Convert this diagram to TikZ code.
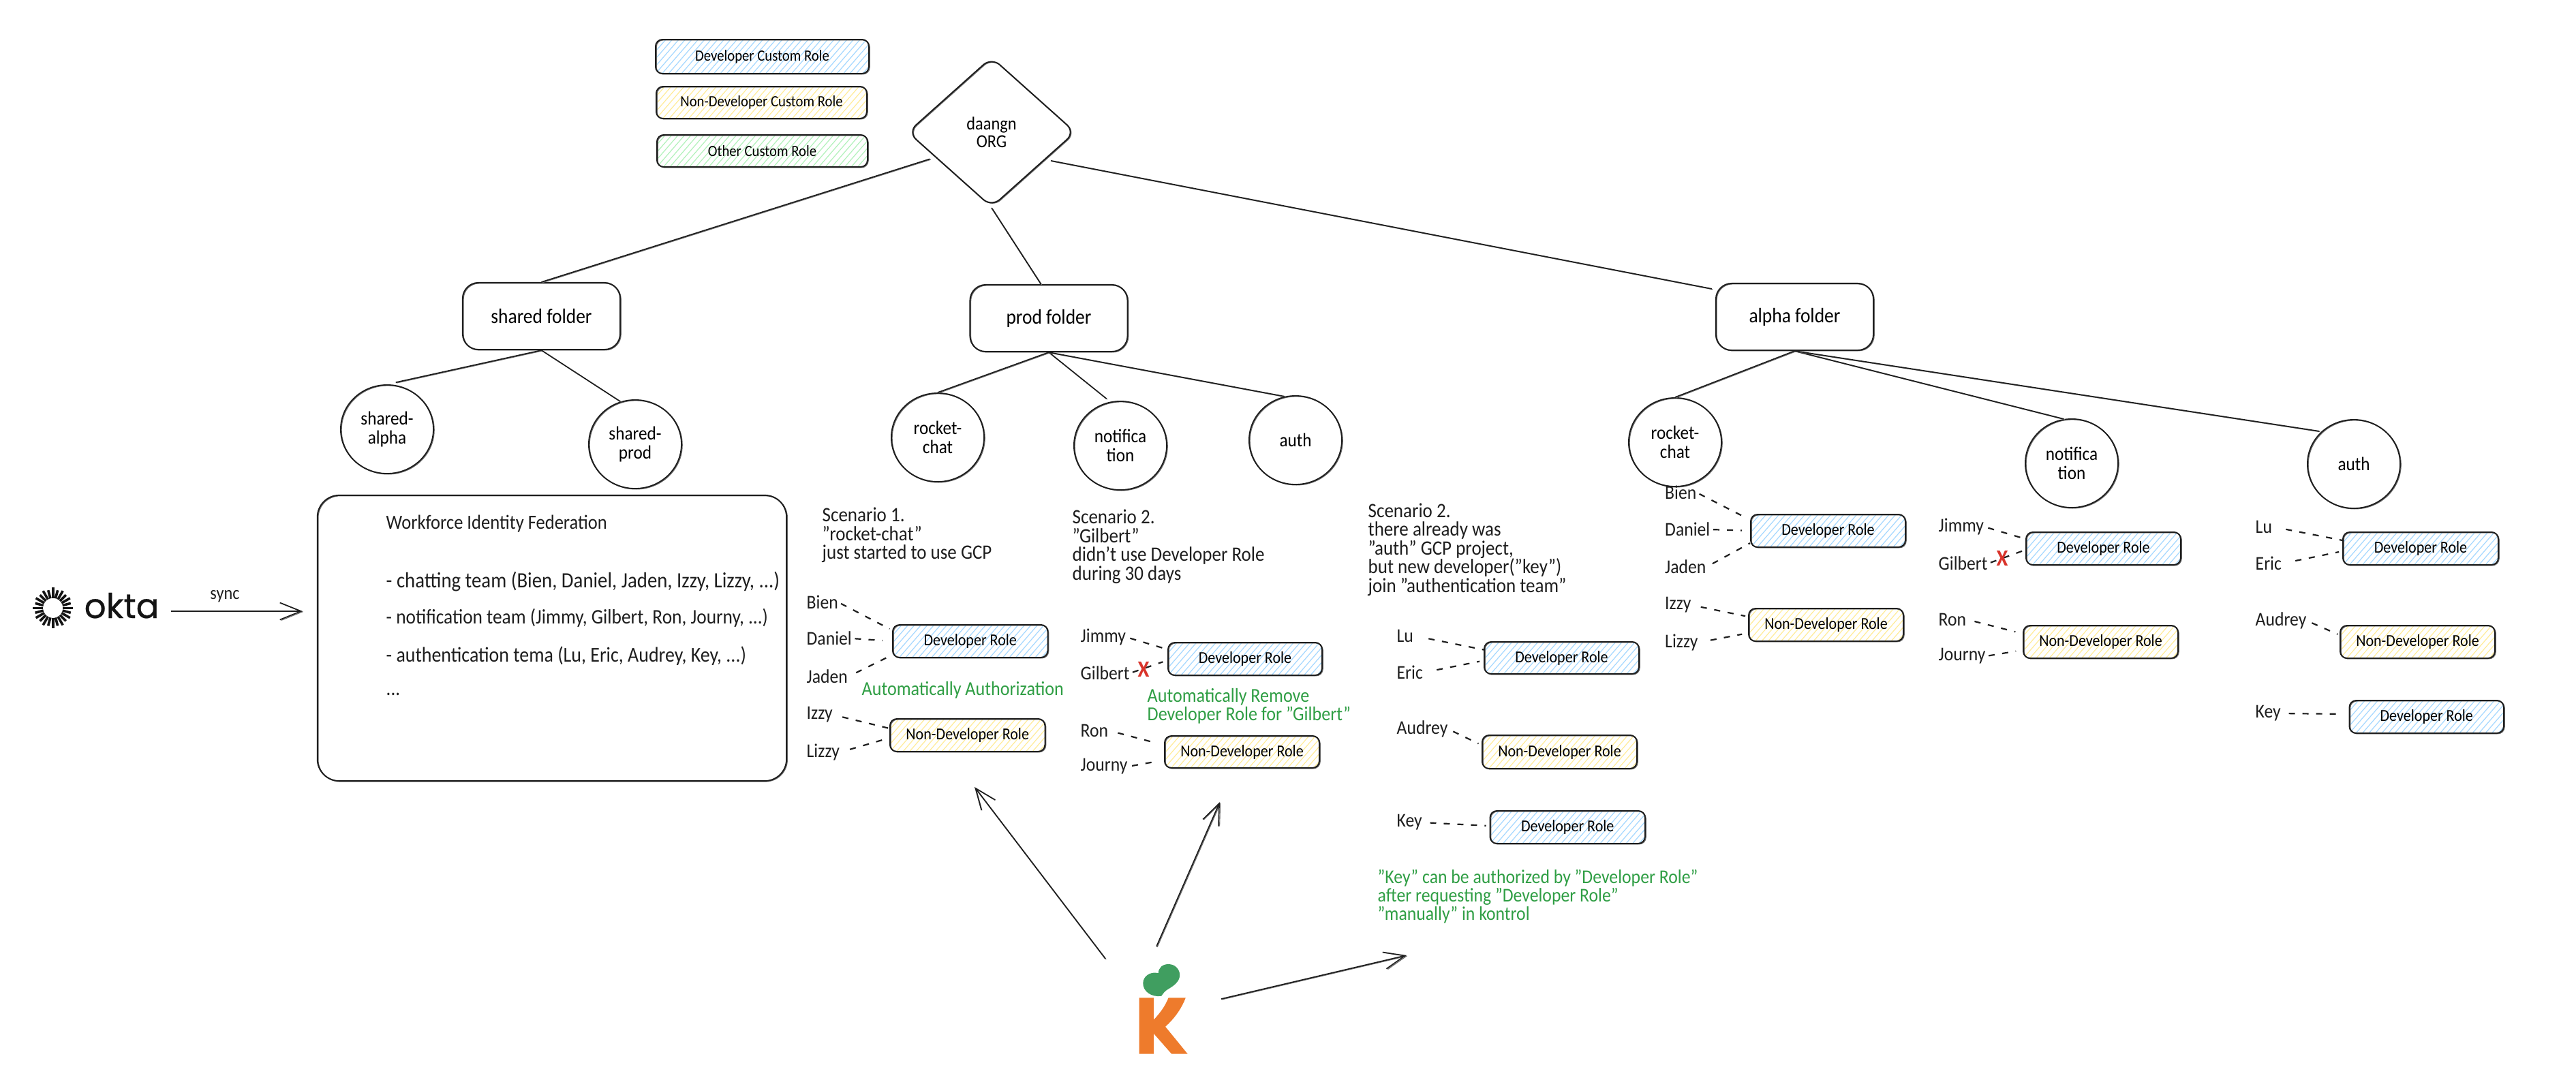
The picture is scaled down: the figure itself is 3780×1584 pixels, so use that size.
\documentclass[tikz,border=0pt]{standalone}
\usepackage{fontspec}
\setmainfont{Carlito}[FakeStretch=0.9]
\newfontfamily\oktafont{Poppins}[FakeBold=0.5]
\usetikzlibrary{shapes.geometric,arrows.meta,calc}
\definecolor{inkc}{HTML}{1E1E1E}
\definecolor{hblue}{HTML}{A5D8FF}
\definecolor{hyellow}{HTML}{FFEC99}
\definecolor{hgreen}{HTML}{B2F2BB}
\definecolor{gtext}{HTML}{2F9E44}
\definecolor{xred}{HTML}{D9342B}
\definecolor{korange}{HTML}{EE7B2C}
\definecolor{kgreen}{HTML}{409E60}
\newcommand\pxfont[2]{\fontsize{\dimexpr#1\dimexpr0.2845pt\relax\relax}{\dimexpr#2\dimexpr0.2845pt\relax\relax}\selectfont}
\tikzset{
  sk/.style={preaction={draw=inkc!65,line width=0.011cm,transform canvas={xshift=0.012cm,yshift=-0.009cm}}},
  conn/.style={draw=inkc,line width=0.017cm,sk},
  arrowconn/.style={conn,-{Straight Barb[length=0.31cm,width=0.25cm]}},
  dashconn/.style={draw=inkc,line width=0.022cm,dash pattern=on 0.09cm off 0.11cm},
  rolebox/.style={draw=inkc,line width=0.02cm,rounded corners=0.1cm,inner sep=0pt,sk,font=\pxfont{24.5}{26}},
  legendbox/.style={rolebox,font=\pxfont{23}{26}},
  folder/.style={draw=inkc,line width=0.02cm,rounded corners=0.23cm,sk,inner sep=0pt,minimum width=2.31cm,minimum height=0.98cm,font=\pxfont{30.5}{32}},
  bubble/.style={ellipse,draw=inkc,line width=0.019cm,sk,inner sep=0pt,minimum width=1.36cm,minimum height=1.3cm,align=center,font=\pxfont{28}{27.5}},
  orgshape/.style={diamond,draw=inkc,line width=0.02cm,sk,rounded corners=0.16cm,inner sep=0pt,minimum width=2.46cm,minimum height=2.2cm,align=center,font=\pxfont{27}{26}},
  wholabel/.style={anchor=west,inner sep=0pt,font=\pxfont{28.5}{28},text=inkc},
  para/.style={anchor=west,inner sep=0pt,align=left,text=inkc,font=\pxfont{30}{27.5}},
  greenpara/.style={anchor=west,inner sep=0pt,align=left,text=gtext,font=\pxfont{29}{27}},
  fedline/.style={anchor=west,inner sep=0pt,text=inkc},
  redx/.style={inner sep=0pt,text=xred,font=\bfseries\pxfont{34}{34}},
}
% name, x1, y1, x2, y2, hachure colour, style, text
\newcommand\hachured[8]{%
  \begin{scope}
    \clip[rounded corners=0.1cm] (#2,#3) rectangle (#4,#5);
    \foreach \k in {-8,...,36}
      \draw[#6,line width=0.012cm] ({#2+\k*9.5},{#5}) -- ({#2+\k*9.5+0.87*(#5-#3)},{#3});
  \end{scope}
  \node[#7,minimum width={(#4-#2)*0.01cm},minimum height={(#5-#3)*0.01cm}] (#1) at ({(#2+#4)/2},{(#3+#5)/2}) {#8};
}
\newcommand\dev[5]{\hachured{#1}{#2}{#3}{#4}{#5}{hblue}{rolebox}{Developer Role}}
\newcommand\nondev[5]{\hachured{#1}{#2}{#3}{#4}{#5}{hyellow}{rolebox}{Non-Developer Role}}
\newcommand\who[4]{\node[wholabel] (#1) at (#2,#3) {#4};}
% label, box anchor, gap at the label, gap at the box
\newcommand\dl[4]{\draw[dashconn,shorten <=#3*0.01cm,shorten >=#4*0.01cm] (#1.east) -- (#2);}
\begin{document}
\begin{tikzpicture}[x=0.01cm,y=-0.01cm]
\useasboundingbox (0,0) rectangle (3780,1584);
\fill[white] (0,0) rectangle (3780,1584);

% legend
\hachured{lega}{962}{58}{1275}{108}{hblue}{legendbox}{Developer Custom Role}
\hachured{legb}{963}{127}{1272}{174}{hyellow}{legendbox}{Non-Developer Custom Role}
\hachured{legc}{964}{198}{1273}{245}{hgreen}{legendbox}{Other Custom Role}

% hierarchy
\node[orgshape] (org) at (1455,194) {daangn\\ORG};
\node[folder] (shared) at (794.5,464) {shared folder};
\node[folder] (prod) at (1539,467) {prod folder};
\node[folder] (alpha) at (2633.5,465) {alpha folder};
\node[bubble] (salpha) at (568,630) {shared-\\alpha};
\node[bubble] (sprod) at (932,652) {shared-\\prod};
\node[bubble] (prc) at (1376,642) {rocket-\\chat};
\node[bubble] (pnot) at (1644,654) {notifica\\tion};
\node[bubble] (pauth) at (1901,646) {auth};
\node[bubble] (arc) at (2458,649) {rocket-\\chat};
\node[bubble] (anot) at (3040,680) {notifica\\tion};
\node[bubble] (aauth) at (3454,681) {auth};

\draw[conn,shorten <=0.08cm] (org.204) -- (shared.north);
\draw[conn] (org.south) -- (prod.103);
\draw[conn,shorten <=0.08cm,shorten >=0.05cm] (org.333) -- (alpha.161);
\draw[conn,shorten >=0.13cm] (shared.south) -- (salpha.north);
\draw[conn] (shared.south) -- (sprod.109);
\draw[conn] (prod.south) -- (prc.north);
\draw[conn,shorten >=0.07cm] (prod.south) -- (pnot.103);
\draw[conn] (prod.south) -- (pauth.104);
\draw[conn] (alpha.south) -- (arc.north);
\draw[conn] (alpha.south) -- (anot.100);
\draw[conn,shorten >=0.03cm] (alpha.south) -- (aauth.135);

% okta and federation
\foreach \a/\r in {0/29,15/27,30/29,45/27,60/29,75/27,90/30,105/27,120/29,135/27,150/29,165/27,180/30,195/27,210/29,225/27,240/29,255/27,270/30,285/27,300/29,315/27,330/29,345/27}
  \draw[line width=0.036cm,black!92] ($(77.7,892.3)+(\a:0.145cm)$) -- ($(77.7,892.3)+(\a:\r*0.01cm)$);
\node[anchor=base west,inner sep=0pt,text=black!92,font={\oktafont\pxfont{50}{50}}] (okta) at (123,907) {okta};
\node[draw=inkc,line width=0.02cm,rounded corners=0.32cm,sk,minimum width=6.88cm,minimum height=4.19cm,inner sep=0pt] (wif) at (810,936.5) {};
\coordinate (syncfrom) at (251,897);
\coordinate (syncto) at (444,897);
\draw[arrowconn] (syncfrom) -- (syncto);
\node[inner sep=0pt,text=inkc,font=\pxfont{27}{28}] (sync) at (330,875) {sync};
\node[fedline,font=\pxfont{29.5}{30}] (fedt) at (566,769) {Workforce Identity Federation};
\node[fedline,font=\pxfont{32}{32}] (fed1) at (566,854) {- chatting team (Bien, Daniel, Jaden, Izzy, Lizzy, ...)};
\node[fedline,font=\pxfont{30.4}{32}] (fed2) at (566,907) {- notification team (Jimmy, Gilbert, Ron, Journy, ...)};
\node[fedline,font=\pxfont{31}{32}] (fed3) at (566,963) {- authentication tema (Lu, Eric, Audrey, Key, ...)};
\node[fedline,font=\pxfont{30}{32}] (fed4) at (566,1019) {...};

% scenario 1, prod
\node[para] (sc1) at (1206,785.5) {Scenario 1.\\"rocket-chat"\\just started to use GCP};
\dev{pd1}{1310}{917}{1537.5}{965}
\nondev{pn1}{1306}{1055}{1533.5}{1103}
\who{pbien}{1183}{884}{Bien}
\who{pdaniel}{1183}{937}{Daniel}
\who{pjaden}{1183}{993}{Jaden}
\who{pizzy}{1183}{1049}{Izzy}
\who{plizzy}{1183}{1104}{Lizzy}
\dl{pbien}{pd1.172}{4}{4}
\dl{pdaniel}{pd1.180}{4}{14}
\dl{pjaden}{pd1.190}{13}{0}
\dl{pizzy}{pn1.175}{14}{2}
\dl{plizzy}{pn1.182}{15}{1}
\node[greenpara] (auto1) at (1264,1013) {Automatically Authorization};

% scenario 2, prod
\node[para] (sc2) at (1573,802) {Scenario 2.\\"Gilbert"\\didn't use Developer Role\\during 30 days};
\dev{pd2}{1714}{943}{1940}{991}
\nondev{pn2}{1709}{1080}{1936}{1127}
\who{pjimmy}{1585}{935}{Jimmy}
\who{pgilbert}{1585}{988}{Gilbert}
\who{pron}{1585}{1072}{Ron}
\who{pjourny}{1585}{1125}{Journy}
\dl{pjimmy}{pd2.173}{6}{3}
\dl{pgilbert}{pd2.181}{4}{7}
\dl{pron}{pn2.175}{14}{11}
\dl{pjourny}{pn2.186}{6}{8}
\node[redx] (px) at (1678,982) {X};
\node[greenpara] (auto2) at (1683,1036) {Automatically Remove\\Developer Role for "Gilbert"};

% scenario 3, auth
\node[para] (sc3) at (2007,806.5) {Scenario 2.\\there already was\\"auth" GCP project,\\but new developer("key")\\join "authentication team"};
\dev{pd3}{2178}{942}{2405}{989}
\nondev{pn3}{2175}{1079}{2402}{1128}
\dev{pd4}{2186.5}{1190}{2414}{1238}
\who{plu}{2049}{933}{Lu}
\who{peric}{2049}{987}{Eric}
\who{paudrey}{2049}{1070}{Audrey}
\who{pkey}{2049}{1207}{Key}
\dl{plu}{pd3.174}{22}{0}
\dl{peric}{pd3.182}{20}{6}
\dl{paudrey}{pn3.175}{8}{5}
\dl{pkey}{pd4.179}{11}{5}
\node[greenpara,font=\pxfont{28.6}{27}] (auto3) at (2021,1316) {"Key" can be authorized by "Developer Role"\\after requesting "Developer Role"\\"manually" in kontrol};

% alpha, rocket-chat
\dev{ad1}{2569}{755}{2796}{803}
\nondev{an1}{2566}{893}{2793}{941}
\who{abien}{2442.5}{723}{Bien}
\who{adaniel}{2442.5}{777}{Daniel}
\who{ajaden}{2442.5}{832}{Jaden}
\who{aizzy}{2442.5}{888}{Izzy}
\who{alizzy}{2442.5}{943}{Lizzy}
\dl{abien}{ad1.172}{4}{4}
\dl{adaniel}{ad1.180}{4}{12}
\dl{ajaden}{ad1.189}{10}{0}
\dl{aizzy}{an1.174}{14}{4}
\dl{alizzy}{an1.186}{18}{9}

% alpha, notification
\dev{ad2}{2973}{781}{3200}{829}
\nondev{an2}{2969}{918}{3196}{966}
\who{ajimmy}{2844}{773}{Jimmy}
\who{agilbert}{2844}{827}{Gilbert}
\who{aron}{2844}{909}{Ron}
\who{ajourny}{2844}{963}{Journy}
\dl{ajimmy}{ad2.173}{6}{1}
\dl{agilbert}{ad2.181}{4}{3}
\dl{aron}{an2.174}{12}{11}
\dl{ajourny}{an2.186}{4}{10}
\node[redx] (ax) at (2938,819) {X};

% alpha, auth
\dev{ad3}{3438}{781}{3666}{829}
\nondev{an3}{3434}{918}{3661}{966}
\dev{ad4}{3447.5}{1028}{3674}{1076}
\who{alu}{3309}{773}{Lu}
\who{aeric}{3309}{827}{Eric}
\who{aaudrey}{3309}{911}{Audrey}
\who{akey}{3309}{1047}{Key}
\dl{alu}{ad3.174}{20}{0}
\dl{aeric}{ad3.182}{20}{5}
\dl{aaudrey}{an3.175}{8}{3}
\dl{akey}{ad4.178}{11}{8}

% kontrol logo and arrows
\fill[korange] (1671.5,1464.3) -- (1692.8,1464.3) -- (1692.8,1496.7)
  .. controls (1703,1486) and (1710,1476) .. (1714.6,1464.3) -- (1739.8,1464.3)
  .. controls (1733,1482) and (1722,1496) .. (1710,1506.7)
  -- (1742.7,1546.7) -- (1719.2,1546.7) -- (1692.8,1516.7) -- (1692.8,1546.7) -- (1671.5,1546.7) -- cycle;
\fill[kgreen] (1704.3,1461.7) .. controls (1690,1464) and (1677,1455) .. (1677.3,1443)
  .. controls (1677,1433) and (1688,1425) .. (1699.7,1428.3)
  .. controls (1700,1420) and (1706,1415) .. (1714.6,1415)
  .. controls (1724,1415) and (1731,1422) .. (1731.2,1431)
  .. controls (1731,1442) and (1720,1448) .. (1712,1453)
  .. controls (1708,1456) and (1706,1459) .. (1704.3,1461.7) -- cycle;
\coordinate (kfrom1) at (1622,1407);
\coordinate (kto1) at (1430,1155);
\coordinate (kfrom2) at (1697,1389);
\coordinate (kto2) at (1790,1177);
\coordinate (kfrom3) at (1792,1466);
\coordinate (kto3) at (2064,1402);
\draw[arrowconn] (kfrom1) -- (kto1);
\draw[arrowconn] (kfrom2) -- (kto2);
\draw[arrowconn] (kfrom3) -- (kto3);
\end{tikzpicture}
\end{document}
